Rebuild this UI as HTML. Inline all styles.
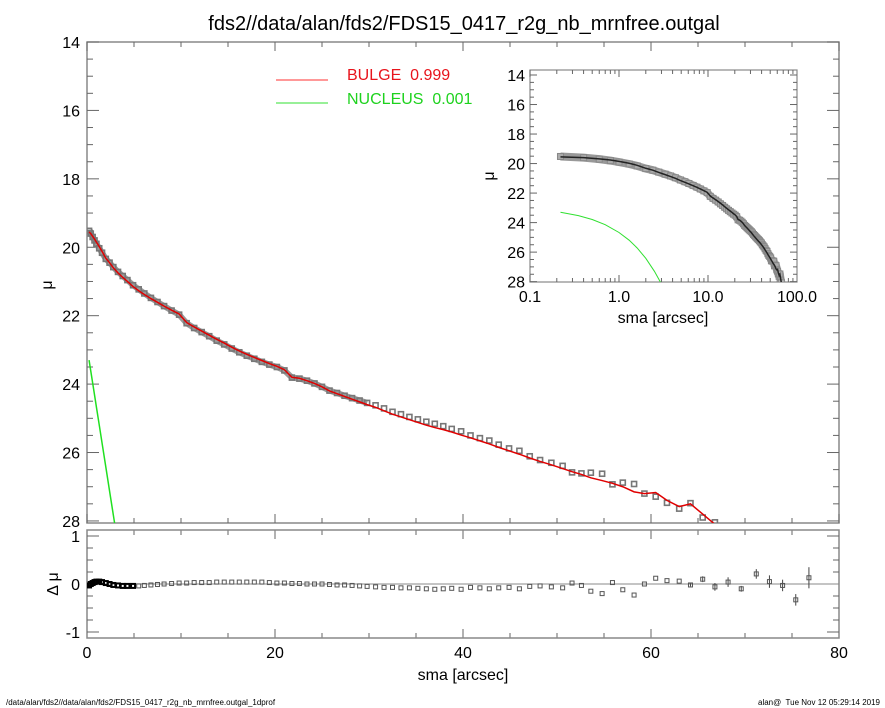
<!DOCTYPE html>
<html><head><meta charset="utf-8"><style>
html,body{margin:0;padding:0;background:#fff;}
svg{display:block;font-family:"Liberation Sans",sans-serif;}
text{white-space:pre;}
</style></head><body>
<svg id="chart" width="885" height="708" viewBox="0 0 885 708" xmlns="http://www.w3.org/2000/svg">
<text x="464" y="30" font-size="20" text-anchor="middle" fill="#000">fds2//data/alan/fds2/FDS15_0417_r2g_nb_mrnfree.outgal</text>
<text x="6" y="705" font-size="8" fill="#000">/data/alan/fds2//data/alan/fds2/FDS15_0417_r2g_nb_mrnfree.outgal_1dprof</text>
<text x="880" y="705" font-size="8" text-anchor="end" fill="#000">alan@  Tue Nov 12 05:29:14 2019</text>
<defs>
<clipPath id="cm"><rect x="87" y="42" width="752" height="481"/></clipPath>
<clipPath id="cr"><rect x="87" y="530" width="752" height="108"/></clipPath>
<clipPath id="ci"><rect x="530" y="70" width="267" height="212"/></clipPath>
</defs>
<g id="main"></g>
<g id="resid"></g>
<g id="inset"></g>
<g>
<line x1="276" y1="80" x2="328" y2="80" stroke="#ff3030" stroke-width="1"/>
<text x="347" y="80" font-size="16" fill="#e8141c">BULGE  0.999</text>
<line x1="276" y1="103" x2="328" y2="103" stroke="#30e030" stroke-width="1"/>
<text x="347" y="104" font-size="16" fill="#1ed21e">NUCLEUS  0.001</text>
</g>
</svg>
<script>
const sma=[0.22,0.4,0.6,0.8,1.0,1.3,1.6,2.0,2.4,2.8,3.3,3.8,4.3,4.9,5.5,6.1,6.8,7.5,8.2,9.0,9.8,10.6,11.4,12.2,13.0,13.8,14.6,15.4,16.2,17.0,17.8,18.6,19.4,20.2,21.0,21.8,22.6,23.4,24.2,25.0,25.8,26.6,27.4,28.2,29.0,29.8,30.7,31.6,32.5,33.4,34.3,35.2,36.1,37.0,37.9,38.8,39.8,40.8,41.8,42.8,43.8,44.9,46.0,47.1,48.2,49.4,50.6,51.6,52.6,53.6,54.8,55.9,57.0,58.2,59.3,60.5,61.7,63.0,64.2,65.5,66.8,68.2,69.6,71.2,72.6,74.0,75.4,76.8];
const muModel=[19.55,19.6,19.68,19.76,19.85,19.98,20.12,20.32,20.45,20.6,20.75,20.88,21.0,21.15,21.27,21.38,21.5,21.61,21.72,21.84,21.95,22.2,22.33,22.45,22.57,22.69,22.8,22.92,23.03,23.13,23.22,23.31,23.4,23.48,23.58,23.8,23.83,23.9,23.98,24.08,24.2,24.28,24.36,24.44,24.52,24.6,24.68,24.78,24.88,24.96,25.04,25.12,25.2,25.27,25.33,25.4,25.49,25.57,25.66,25.75,25.85,25.95,26.05,26.16,26.26,26.36,26.47,26.56,26.64,26.74,26.82,26.9,27.0,27.15,27.2,27.17,27.4,27.58,27.5,27.8,28.1,28.3,28.45,28.6,28.75,28.9,29.1,29.3];
const resid=[-0.03,0,0.02,0.04,0.05,0.05,0.04,0.02,0,-0.02,-0.03,-0.04,-0.04,-0.04,-0.04,-0.03,-0.02,-0.01,0,0.01,0.02,0.02,0.03,0.03,0.03,0.04,0.04,0.04,0.04,0.04,0.04,0.04,0.03,0.02,0.02,0.01,0.01,0,0,0,-0.01,-0.02,-0.02,-0.03,-0.04,-0.05,-0.06,-0.07,-0.07,-0.08,-0.08,-0.09,-0.1,-0.11,-0.1,-0.09,-0.11,-0.07,-0.08,-0.1,-0.08,-0.07,-0.1,-0.05,-0.04,-0.06,-0.08,0.02,-0.03,-0.15,-0.2,0.03,-0.12,-0.23,0,0.12,0.07,0.06,-0.02,0.1,-0.06,0.04,-0.1,0.21,0.05,-0.03,-0.33,0.13];
const err=[0,0,0,0,0,0,0,0,0,0,0,0,0,0,0,0,0,0,0,0,0,0,0,0,0,0,0,0,0,0,0,0,0,0,0,0,0,0,0,0,0,0,0,0,0,0,0,0,0,0,0,0,0,0,0,0,0,0,0,0,0,0,0,0,0,0,0,0,0,0,0,0,0,0,0,0,0,0,0.03,0.06,0.08,0.1,0.06,0.1,0.13,0.12,0.12,0.22];
const nucR=[0.22,0.35,0.5,0.7,1.0,1.3,1.6,2.0,2.5,2.9,3.2];
const nucMu=[23.3,23.53,23.79,24.14,24.67,25.19,25.72,26.42,27.3,28.0,28.53];
const xTicks=[0,20,40,60,80];
const yTicks=[14,16,18,20,22,24,26,28];
const rTicks=[1,0,-1];
const insetXTicks=[0.1,1,10,100];
const insetXLabels=["0.1","1.0","10.0","100.0"];

const NS="http://www.w3.org/2000/svg";
function mk(parent,tag,attrs,text){const e=document.createElementNS(NS,tag);for(const k in attrs)e.setAttribute(k,attrs[k]);if(text!==undefined)e.textContent=text;parent.appendChild(e);return e;}
const X=v=>87+v*9.4;
const Y=v=>42+(v-14)*34.21;
const RY=v=>584-v*48;
const IX=v=>530+(Math.log10(v)+1)*89;
const IY=v=>75+(v-14)*14.76;
const obs=sma.map((s,i)=>muModel[i]+resid[i]);

// main panel
const main=document.getElementById('main');
let f=mk(main,'rect',{x:87,y:42,width:752,height:481,fill:'none',stroke:'#888','stroke-width':1.5});


for(let v=0;v<=80;v+=5){const big=v%20===0;
 mk(main,'line',{x1:X(v),x2:X(v),y1:42,y2:42+(big?9:5),stroke:'#666'});
 mk(main,'line',{x1:X(v),x2:X(v),y1:523,y2:523-(big?9:5),stroke:'#666'});
 mk(main,'line',{x1:X(v),x2:X(v),y1:638,y2:638-(big?9:5),stroke:'#666'});
 mk(main,'line',{x1:X(v),x2:X(v),y1:530,y2:530+(big?9:5),stroke:'#666'});}
for(let v=14;v<=28;v+=0.5){const big=v%2===0;
 mk(main,'line',{x1:87,x2:87+(big?12:6),y1:Y(v),y2:Y(v),stroke:'#666'});
 mk(main,'line',{x1:839,x2:839-(big?12:6),y1:Y(v),y2:Y(v),stroke:'#666'});}
yTicks.forEach(v=>{const t=mk(main,'text',{x:80,y:Y(v)+6,'font-size':16,'text-anchor':'end'},String(v));
 
 });
let yl=mk(main,'text',{x:52,y:285,'font-size':16,'text-anchor':'middle',transform:'rotate(-90 52 285)'},'μ');


const gm=mk(main,'g',{'clip-path':'url(#cm)'});
const dense=sma.map((s,i)=>[s,obs[i]]).filter(p=>p[0]<=30);
let band=mk(gm,'polyline',{points:dense.map(p=>X(p[0])+','+Y(p[1])).join(' '),fill:'none',stroke:'#999','stroke-width':6,'stroke-linejoin':'round'});


sma.forEach((s,i)=>{const r=mk(gm,'rect',{x:X(s)-2.5,y:Y(obs[i])-2.5,width:5,height:5,fill:'none',stroke:'#777','stroke-width':1.6});
 
 });
let pm=mk(gm,'polyline',{points:sma.map((s,i)=>X(s)+','+Y(muModel[i])).join(' '),fill:'none',stroke:'#e00000','stroke-width':1.5});


let pn=mk(gm,'polyline',{points:nucR.map((s,i)=>X(s)+','+Y(nucMu[i])).join(' '),fill:'none',stroke:'#20e020','stroke-width':1.5});



// residual panel
const rs=document.getElementById('resid');
let rf=mk(rs,'rect',{x:87,y:530,width:752,height:108,fill:'none',stroke:'#888','stroke-width':1.5});


for(let v=-1;v<=1;v+=0.25){const big=Number.isInteger(v);
 mk(rs,'line',{x1:87,x2:87+(big?12:6),y1:RY(v),y2:RY(v),stroke:'#666'});
 mk(rs,'line',{x1:839,x2:839-(big?12:6),y1:RY(v),y2:RY(v),stroke:'#666'});}
let zl=mk(rs,'line',{x1:87,x2:839,y1:RY(0),y2:RY(0),stroke:'#888','stroke-width':1});


rTicks.forEach(v=>{const t=mk(rs,'text',{x:80,y:RY(v)+6,'font-size':16,'text-anchor':'end'},String(v));
 
 });
let rl=mk(rs,'text',{x:58,y:584,'font-size':16,'text-anchor':'middle',transform:'rotate(-90 58 584)'},'Δ μ');


const gr=mk(rs,'g',{'clip-path':'url(#cr)'});
sma.forEach((s,i)=>{
 if(err[i]>0){const l=mk(gr,'line',{x1:X(s),x2:X(s),y1:RY(resid[i]-err[i]),y2:RY(resid[i]+err[i]),stroke:'#444'});
  
  }
 const r=mk(gr,'rect',{x:X(s)-2,y:RY(resid[i])-2,width:4,height:4,fill:'none',stroke:s<5?'#000':'#555','stroke-width':s<5?2:1});
 
 });
xTicks.forEach(v=>{const t=mk(rs,'text',{x:X(v),y:658,'font-size':16,'text-anchor':'middle'},String(v));
 
 });
let xl=mk(rs,'text',{x:463,y:680,'font-size':16,'text-anchor':'middle'},'sma [arcsec]');



// inset
const ins=document.getElementById('inset');
let inf=mk(ins,'rect',{x:530,y:70,width:267,height:212,fill:'#fff',stroke:'#888','stroke-width':1.2});


for(let d=-1;d<2;d++)for(let m=1;m<10;m++){const v=m*Math.pow(10,d);const L=m===1?7:4;
 mk(ins,'line',{x1:IX(v),x2:IX(v),y1:70,y2:70+L,stroke:'#666'});
 mk(ins,'line',{x1:IX(v),x2:IX(v),y1:282,y2:282-L,stroke:'#666'});}
for(let v=14;v<=28;v+=0.5){const big=v%2===0;
 mk(ins,'line',{x1:530,x2:530+(big?7:4),y1:IY(v),y2:IY(v),stroke:'#666'});
 mk(ins,'line',{x1:797,x2:797-(big?7:4),y1:IY(v),y2:IY(v),stroke:'#666'});}
yTicks.forEach(v=>{const t=mk(ins,'text',{x:525,y:IY(v)+6,'font-size':16,'text-anchor':'end'},String(v));
 
 });
insetXTicks.forEach((v,i)=>{const t=mk(ins,'text',{x:IX(v),y:302,'font-size':16,'text-anchor':'middle'},insetXLabels[i]);
 
 });
let ixl=mk(ins,'text',{x:663,y:323,'font-size':16,'text-anchor':'middle'},'sma [arcsec]');


let iyl=mk(ins,'text',{x:494,y:176,'font-size':16,'text-anchor':'middle',transform:'rotate(-90 494 176)'},'μ');


const gi=mk(ins,'g',{'clip-path':'url(#ci)'});
let iband=mk(gi,'polyline',{points:sma.map((s,i)=>IX(s)+','+IY(obs[i])).join(' '),fill:'none',stroke:'#999','stroke-width':8,'stroke-linejoin':'round'});


sma.forEach((s,i)=>{const r=mk(gi,'rect',{x:IX(s)-3,y:IY(obs[i])-3,width:6,height:6,fill:'#aaa',stroke:'#888','stroke-width':1});
 
 });
let ipm=mk(gi,'polyline',{points:sma.map((s,i)=>IX(s)+','+IY(muModel[i])).join(' '),fill:'none',stroke:'#222','stroke-width':1.5});


let ipn=mk(gi,'polyline',{points:nucR.map((s,i)=>IX(s)+','+IY(nucMu[i])).join(' '),fill:'none',stroke:'#30e030','stroke-width':1});


</script>
</body></html>
